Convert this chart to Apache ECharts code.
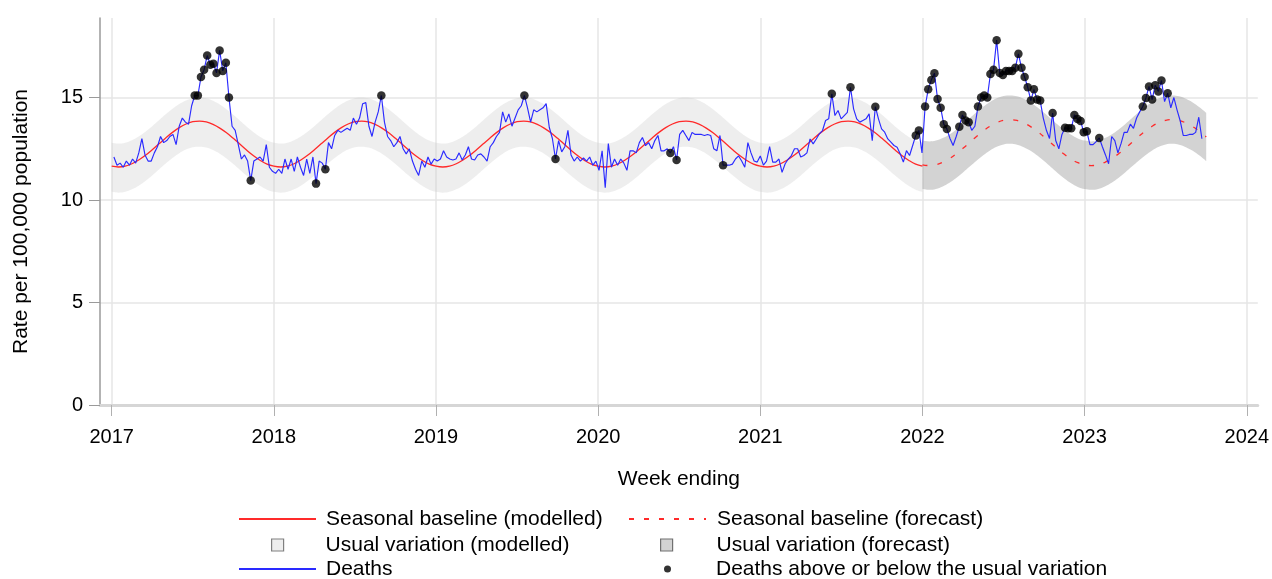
<!DOCTYPE html>
<html>
<head>
<meta charset="utf-8">
<title>Weekly death rate</title>
<script src="https://cdn.jsdelivr.net/npm/echarts@6/dist/echarts.min.js"></script>
<style>
  html, body { margin: 0; padding: 0; background: #fff; }
  #chart { width: 1272px; height: 579px; }
</style>
</head>
<body>
<div id="chart"></div>
<script>
// Weekly deaths, rate per 100,000 population, weeks ending from 6 Jan 2017
const firstWeekEnding = [2017, 0, 6];
const deaths = [
  12.1, 11.7, 11.8, 11.6, 11.9, 11.7, 12.0, 11.8, 12.3, 13.0,
  12.2, 11.9, 11.9, 12.3, 12.6, 13.1, 12.8, 12.9, 13.1, 13.2,
  12.7, 13.6, 14.0, 13.8, 13.7, 14.6, 15.1, 15.1, 16.0, 16.35,
  17.05, 16.6, 16.65, 16.2, 17.3, 16.3, 16.7, 15.0, 13.6, 13.4,
  12.7, 12.0, 12.2, 11.9, 10.95, 11.9, 12.0, 12.1, 11.9, 12.7,
  11.6, 11.4, 11.3, 11.5, 11.3, 12.0, 11.5, 12.0, 11.4, 12.1,
  11.6, 11.2, 12.0, 11.3, 12.1, 10.8, 11.9, 11.8, 11.5, 12.8,
  12.5, 13.15, 13.4, 13.3, 13.4, 13.5, 13.4, 14.0, 13.7, 14.0,
  14.7, 14.75, 13.6, 13.1, 13.8, 14.3, 15.1, 13.8, 13.1, 12.9,
  12.6, 12.8, 13.1, 12.5, 12.25, 12.5, 11.9, 11.5, 11.2, 11.9,
  11.6, 12.1, 11.75, 12.0, 11.9, 12.0, 12.4, 12.1, 12.0, 11.95,
  12.0, 12.3, 11.95, 12.2, 12.6, 12.0, 11.95, 12.2, 12.25, 12.1,
  11.9, 12.6, 12.8, 13.1, 13.3, 14.3, 13.8, 14.2, 13.6, 14.0,
  14.4, 14.6, 15.1, 14.5, 13.8, 14.4, 14.3, 14.4, 14.5, 14.7,
  13.55, 13.0, 12.0, 12.9, 12.35, 12.6, 13.4, 12.2, 11.9, 12.1,
  11.9, 12.05, 11.9, 12.1, 11.7, 11.9, 11.45, 12.4, 10.6, 12.75,
  11.6, 12.0, 11.7, 12.0, 11.8, 11.45, 12.4, 12.4, 12.3, 12.8,
  13.05, 12.65, 12.8, 12.5, 12.9, 13.15, 12.4, 12.4, 12.5, 12.3,
  12.6, 11.95, 13.2, 13.4, 13.15, 12.9, 13.3, 13.2, 13.2, 13.2,
  13.15, 13.2, 13.15, 12.5, 12.4, 13.15, 11.7, 11.7, 11.7, 11.75,
  12.0, 12.15, 11.9, 11.6, 12.8, 12.3, 11.9, 11.85, 12.15, 11.7,
  11.9, 12.6, 11.85, 11.85, 12.0, 11.35, 11.77, 12.0, 12.17, 12.5,
  12.5, 12.1, 12.17, 12.3, 12.98, 12.74, 12.98, 13.23, 13.39, 13.88,
  13.96, 15.18, 14.12, 14.37, 13.96, 14.12, 14.28, 15.5, 14.45, 13.96,
  13.8, 13.88, 13.96, 14.2, 12.9, 14.55, 13.96, 13.47, 13.31, 12.98,
  12.82, 12.66, 12.58, 12.25, 11.85, 12.41, 12.17, 12.66, 13.15, 13.39,
  12.3, 14.56, 15.4, 15.86, 16.19, 14.93, 14.5, 13.7, 13.47, 13.0,
  12.66, 13.1, 13.58, 14.15, 13.88, 13.8, 13.4, 13.6, 14.56, 15.0,
  15.1, 15.0, 16.15, 16.35, 17.8, 16.2, 16.1, 16.3, 16.3, 16.3,
  16.45, 17.13, 16.45, 16.0, 15.5, 14.85, 15.4, 14.9, 14.85, 14.0,
  13.4, 13.0, 14.24, 12.9, 12.5, 13.2, 13.52, 13.5, 13.5, 14.15,
  13.95, 13.85, 13.31, 13.35, 12.7, 12.7, 12.85, 13.03, 12.6, 12.2,
  11.77, 13.1, 12.9, 12.3, 12.75, 13.3, 13.3, 13.7, 13.5, 14.0,
  14.3, 14.56, 14.98, 15.54, 14.9, 15.6, 15.3, 15.83, 14.8, 15.21,
  14.5, 15.0, 14.4, 13.88, 13.15, 13.15, 13.2, 13.2, 13.3, 14.04,
  12.99
];

// Weeks whose deaths fall outside the usual variation
const flaggedWeeks = [
  26, 27, 28, 29, 30, 31, 32, 33, 34, 35, 36, 37, 44, 65, 68,
  86, 132, 142, 179, 181, 196, 231, 237, 245, 258, 259,
  261, 262, 263, 264, 265, 266, 267, 268, 272, 273, 274, 275,
  278, 279, 280, 281, 282, 283, 284, 285, 286, 287, 288, 289, 290,
  291, 292, 293, 294, 295, 296, 297, 298, 302,
  306, 307, 308, 309, 310, 311, 312, 313, 317,
  331, 332, 333, 334, 335, 336, 337, 339
];

// Seasonal baseline and usual-variation limits, twice a month (1st and mid-month)
const baselineModelled = [11.65, 11.61, 11.65, 11.77, 11.95, 12.18, 12.45, 12.74, 13.03, 13.30, 13.53, 13.71,
                          13.82, 13.85, 13.81, 13.69, 13.51, 13.28, 13.01, 12.72, 12.43, 12.16, 11.93, 11.75];
const upperModelled    = [12.80, 12.76, 12.80, 12.92, 13.10, 13.33, 13.60, 13.89, 14.18, 14.45, 14.68, 14.86,
                          14.97, 15.00, 14.96, 14.84, 14.66, 14.43, 14.16, 13.87, 13.58, 13.31, 13.08, 12.90];
const lowerModelled    = [10.40, 10.36, 10.40, 10.52, 10.70, 10.93, 11.20, 11.49, 11.78, 12.05, 12.28, 12.46,
                          12.57, 12.60, 12.56, 12.44, 12.26, 12.03, 11.76, 11.47, 11.18, 10.91, 10.68, 10.50];
const baselineForecast = [11.72, 11.68, 11.72, 11.84, 12.02, 12.25, 12.52, 12.81, 13.10, 13.37, 13.60, 13.78,
                          13.89, 13.92, 13.88, 13.76, 13.58, 13.35, 13.08, 12.79, 12.50, 12.23, 12.00, 11.82];
const upperForecast    = [12.90, 12.86, 12.90, 13.02, 13.20, 13.43, 13.70, 13.99, 14.28, 14.55, 14.78, 14.96,
                          15.07, 15.10, 15.06, 14.94, 14.76, 14.53, 14.26, 13.97, 13.68, 13.41, 13.18, 13.00];
const lowerForecast    = [10.54, 10.50, 10.54, 10.66, 10.84, 11.07, 11.34, 11.63, 11.92, 12.19, 12.42, 12.60,
                          12.71, 12.74, 12.70, 12.58, 12.40, 12.17, 11.90, 11.61, 11.32, 11.05, 10.82, 10.64];
const modelledYears = [2017, 2018, 2019, 2020, 2021];
const forecastYears = [2022, 2023];
const forecastLastKnot = 18; // 1 October 2023

const yearTicks = [2017, 2018, 2019, 2020, 2021, 2022, 2023, 2024];
const rateTicks = [0, 5, 10, 15];

const NAMES = {
  baseModel: 'Seasonal baseline (modelled)',
  baseFcst: 'Seasonal baseline (forecast)',
  bandModel: 'Usual variation (modelled)',
  bandFcst: 'Usual variation (forecast)',
  deaths: 'Deaths',
  flagged: 'Deaths above or below the usual variation'
};

function toYearFraction(d) {
  const y = d.getUTCFullYear();
  const s = Date.UTC(y, 0, 1), e = Date.UTC(y + 1, 0, 1);
  return y + (d.getTime() - s) / (e - s);
}

const weekEnding = deaths.map((_, i) =>
  toYearFraction(new Date(Date.UTC(firstWeekEnding[0], firstWeekEnding[1], firstWeekEnding[2] + 7 * i))));

// Half-monthly knots as [decimal year, value]
function knots(years, profile, lastKnot, closingYear) {
  const out = [];
  const per = profile.length;
  years.forEach((y, k) => {
    const stop = (k === years.length - 1 && lastKnot != null) ? lastKnot : per - 1;
    for (let m = 0; m <= stop; m++) out.push([y + m / per, profile[m]]);
  });
  if (closingYear != null) out.push([closingYear, profile[0]]);
  return out;
}

const baseM = knots(modelledYears, baselineModelled, null, 2022);
const upM = knots(modelledYears, upperModelled, null, 2022);
const loM = knots(modelledYears, lowerModelled, null, 2022);
const baseF = knots(forecastYears, baselineForecast, forecastLastKnot, null);
const upF = knots(forecastYears, upperForecast, forecastLastKnot, null);
const loF = knots(forecastYears, lowerForecast, forecastLastKnot, null);

// Band rows are [value, year] so that stacking runs along the rate axis
const bandBaseM = loM.map(p => [p[1], p[0]]);
const bandSpanM = upM.map((p, i) => [+(p[1] - loM[i][1]).toFixed(3), p[0]]);
const bandBaseF = loF.map(p => [p[1], p[0]]);
const bandSpanF = upF.map((p, i) => [+(p[1] - loF[i][1]).toFixed(3), p[0]]);

const deathsData = weekEnding.map((t, i) => [t, deaths[i]]);
const flaggedData = flaggedWeeks.map(i => [weekEnding[i], deaths[i]]);

const FONT = '"Liberation Sans", Arial, Helvetica, sans-serif';
const noMarker = { opacity: 0 };

function legendBox(name, left, top, w, h, padLeft, extra) {
  return {
    data: [Object.assign({ name }, extra || {})],
    left, top, padding: 0,
    itemWidth: w, itemHeight: h,
    selectedMode: false,
    textStyle: { fontSize: 21, lineHeight: 24, color: '#000', fontFamily: FONT, padding: [0, 0, 0, padLeft] }
  };
}

const bandCommon = { type: 'line', smooth: 0.4, symbol: 'none', silent: true, z: 1, encode: { x: 1, y: 0 } };

const chart = echarts.init(document.getElementById('chart'), null, { renderer: 'canvas' });

chart.setOption({
  animation: false,
  backgroundColor: '#fff',
  textStyle: { fontFamily: FONT },
  grid: { left: 100, right: 12, top: 18, bottom: 174, containLabel: false },
  legend: [
    legendBox(NAMES.baseModel, 238, 507, 77, 14, 5, { itemStyle: noMarker }),
    legendBox(NAMES.baseFcst, 628, 507, 77, 14, 6, { itemStyle: noMarker }),
    legendBox(NAMES.bandModel, 271, 533, 12, 12, 37,
      { icon: 'rect', itemStyle: { color: '#eeeeee', borderColor: '#808080', borderWidth: 1.2 } }),
    legendBox(NAMES.bandFcst, 660, 533, 12, 12, 39,
      { icon: 'rect', itemStyle: { color: '#d3d3d3', borderColor: '#707070', borderWidth: 1.2 } }),
    legendBox(NAMES.deaths, 238, 557, 77, 14, 5, { itemStyle: noMarker }),
    legendBox(NAMES.flagged, 664, 557, 7, 7, 40, { icon: 'circle', itemStyle: { color: '#000' } })
  ],
  xAxis: {
    type: 'value',
    min: 2016.928,
    max: 2024.068,
    name: 'Week ending',
    nameLocation: 'middle',
    nameGap: 64,
    nameTextStyle: { fontSize: 21, color: '#000', fontFamily: FONT },
    axisLine: { onZero: false, lineStyle: { color: '#d6d6d6', width: 3 } },
    axisTick: { customValues: yearTicks, length: 11, lineStyle: { color: '#b0b0b0', width: 1 } },
    axisLabel: {
      customValues: yearTicks, margin: 22, fontSize: 20, color: '#000', fontFamily: FONT,
      formatter: v => String(Math.round(v))
    },
    splitLine: { show: true, lineStyle: { color: '#e6e6e6', width: 1.5 } }
  },
  yAxis: {
    type: 'value',
    min: 0,
    max: 18.88,
    name: 'Rate per 100,000 population',
    nameLocation: 'middle',
    nameGap: 68,
    nameTextStyle: { fontSize: 21, color: '#000', fontFamily: FONT, padding: [0, 20, 0, 0] },
    axisLine: { show: true, onZero: false, lineStyle: { color: '#9a9a9a', width: 1.5 } },
    axisTick: { show: true, customValues: rateTicks, length: 11, lineStyle: { color: '#9a9a9a', width: 1 } },
    axisLabel: { customValues: rateTicks, margin: 17, fontSize: 20, color: '#000', fontFamily: FONT },
    splitLine: { show: true, lineStyle: { color: '#e6e6e6', width: 1.5 } }
  },
  series: [
    Object.assign({}, bandCommon, {
      name: 'lowerModelled', stack: 'bandM', data: bandBaseM, lineStyle: { opacity: 0 }
    }),
    Object.assign({}, bandCommon, {
      name: NAMES.bandModel, stack: 'bandM', data: bandSpanM,
      lineStyle: { opacity: 0 }, itemStyle: { color: '#eeeeee' },
      areaStyle: { color: 'rgba(200,200,200,0.3)', opacity: 1 }
    }),
    Object.assign({}, bandCommon, {
      name: 'lowerForecast', stack: 'bandF', data: bandBaseF, lineStyle: { opacity: 0 }
    }),
    Object.assign({}, bandCommon, {
      name: NAMES.bandFcst, stack: 'bandF', data: bandSpanF,
      lineStyle: { opacity: 0 }, itemStyle: { color: '#d3d3d3' },
      areaStyle: { color: 'rgba(150,150,150,0.42)', opacity: 1 }
    }),
    {
      name: NAMES.baseModel, type: 'line', data: baseM, smooth: 0.4, symbol: 'none',
      itemStyle: { color: '#ff2a2a' }, lineStyle: { color: '#ff2a2a', width: 1.3 }, z: 2
    },
    {
      name: NAMES.baseFcst, type: 'line', data: baseF, smooth: 0.4, symbol: 'none',
      itemStyle: { color: '#ff2a2a' }, lineStyle: { color: '#ff2a2a', width: 1.3, type: [5, 10] }, z: 2
    },
    {
      name: NAMES.deaths, type: 'line', data: deathsData, symbol: 'none',
      itemStyle: { color: '#2a2aff' }, lineStyle: { color: '#2a2aff', width: 1.15 }, z: 3
    },
    {
      name: NAMES.flagged, type: 'scatter', data: flaggedData, symbol: 'circle', symbolSize: 8.5,
      itemStyle: { color: '#000' }, z: 4
    }
  ]
});
</script>
</body>
</html>
